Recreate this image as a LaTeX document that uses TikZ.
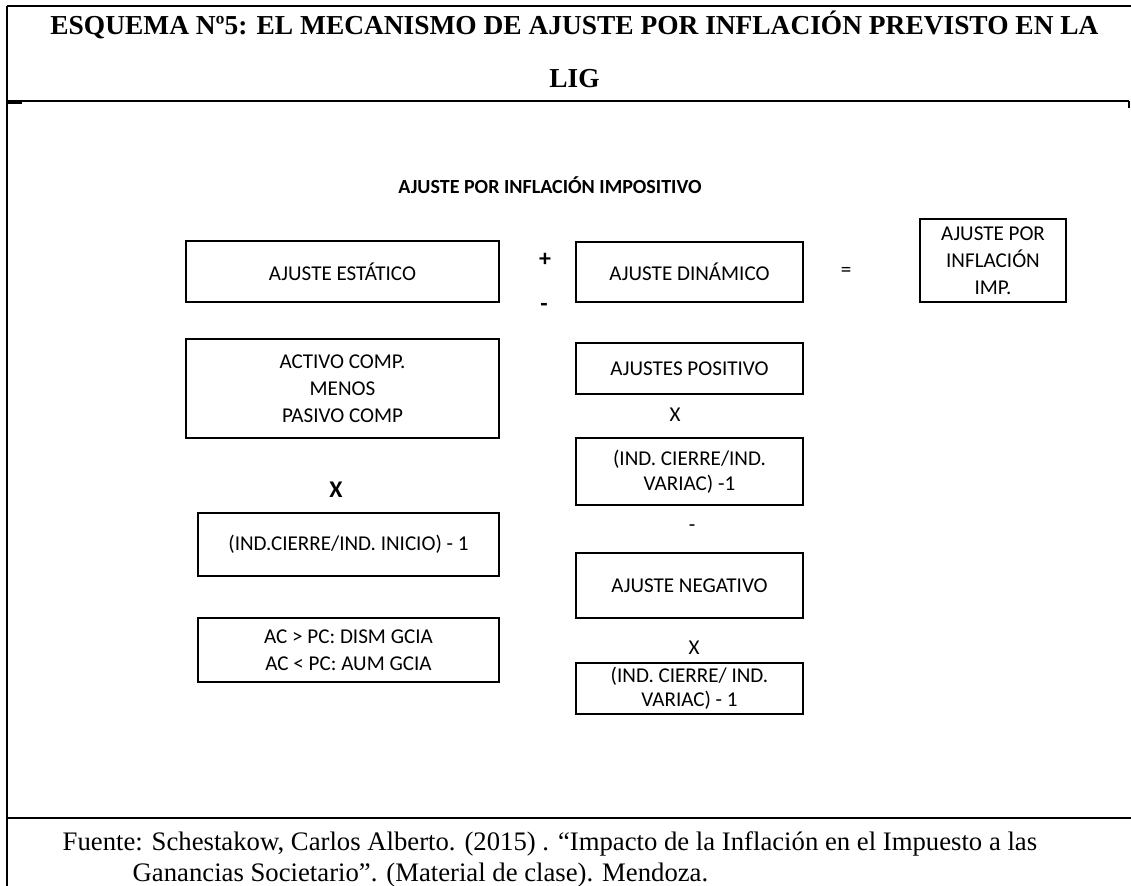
\documentclass[tikz,border=0pt]{standalone}
\usepackage{fontspec}
\setmainfont{Liberation Serif}
\newfontfamily\calibri{Carlito}
\usepackage{tikz}
\usetikzlibrary{positioning}

\begin{document}
\begin{tikzpicture}[
    frame/.style={line width=0.6pt, black},
    box/.style={draw, line width=0.45pt, inner sep=0pt, outer sep=0pt, align=center,
        font=\calibri\fontsize{6.0}{7.7}\selectfont},
    sym/.style={inner sep=0pt, font=\calibri\fontsize{6.0}{7}\selectfont},
    boldsym/.style={inner sep=0pt, font=\calibri\bfseries\fontsize{6.8}{7}\selectfont}
]
    \useasboundingbox (0,0) rectangle (11.31,-8.86);

    % Frame
    \draw[frame] (0.07,-0.06) -- (11.31,-0.06);
    \draw[frame] (0.07,-0.06) -- (0.07,-8.86);
    \draw[line width=0.45pt] (0.07,-1.01) -- (11.29,-1.01);
    \draw[line width=0.6pt] (0.07,-1.03) -- (0.22,-1.03);
    \draw[line width=0.45pt] (11.29,-1.01) -- (11.29,-1.08);
    \draw[line width=0.7pt] (0.07,-8.18) -- (11.31,-8.18);

    % Title
    \node[anchor=base, font=\bfseries\fontsize{7.8}{9}\selectfont] (title) at (5.745,-0.34)
        {ESQUEMA Nº5: EL MECANISMO DE AJUSTE POR INFLACIÓN PREVISTO EN LA};
    \node[anchor=base, font=\bfseries\fontsize{7.8}{9}\selectfont] (titleb) at (5.745,-0.87) {LIG};

    % Subtitle
    \node[font=\calibri\bfseries\fontsize{5.7}{7}\selectfont] (sub) at (5.50,-1.85)
        {AJUSTE POR INFLACIÓN IMPOSITIVO};

    % Left column
    \node[box, minimum width=3.13cm, minimum height=0.61cm] (estatico) at (3.425,-2.715) {AJUSTE ESTÁTICO};
    \node[box, minimum width=3.13cm, minimum height=0.99cm] (activo) at (3.425,-3.885)
        {ACTIVO COMP.\\MENOS\\PASIVO COMP};
    \node[boldsym] (porA) at (3.36,-4.90) {X};
    \node[box, minimum width=3.01cm, minimum height=0.63cm] (inicio) at (3.485,-5.445)
        {(IND.CIERRE/IND. INICIO) - 1};
    \node[box, minimum width=3.01cm, minimum height=0.64cm] (gcia) at (3.485,-6.50)
        {AC > PC: DISM GCIA\\AC < PC: AUM GCIA};

    % Signs
    \node[boldsym] (mas) at (5.45,-2.60) {+};
    \node[boldsym] (menos) at (5.44,-3.07) {-};
    \node[sym] (igual) at (8.46,-2.72) {=};

    % Right column
    \node[box, minimum width=2.27cm, minimum height=0.60cm] (dinamico) at (6.895,-2.72) {AJUSTE DINÁMICO};
    \node[box, minimum width=2.27cm, minimum height=0.51cm] (positivo) at (6.895,-3.685) {AJUSTES POSITIVO};
    \node[sym] (porB) at (6.75,-4.15) {X};
    \node[box, minimum width=2.27cm, minimum height=0.67cm, font=\calibri\fontsize{6.0}{7.1}\selectfont] (variac) at (6.895,-4.715)
        {(IND. CIERRE/IND.\\VARIAC) -1};
    \node[sym] (resta) at (6.92,-5.28) {-};
    \node[box, minimum width=2.27cm, minimum height=0.65cm] (negativo) at (6.895,-5.855) {AJUSTE NEGATIVO};
    \node[sym] (porC) at (6.94,-6.48) {X};
    \node[box, minimum width=2.27cm, minimum height=0.51cm, font=\calibri\fontsize{6.0}{6.9}\selectfont] (variacb) at (6.895,-6.885)
        {(IND. CIERRE/ IND.\\VARIAC) - 1};

    % Result
    \node[box, minimum width=1.46cm, minimum height=0.83cm] (imp) at (9.93,-2.605)
        {AJUSTE POR\\INFLACIÓN\\IMP.};

    % Source
    \node[anchor=base west, inner sep=0pt, font=\fontsize{7.6}{8}\selectfont] (fuente) at (0.62,-8.50)
        {Fuente: Schestakow, Carlos Alberto. (2015) . “Impacto de la Inflación en el Impuesto a las};
    \node[anchor=base west, inner sep=0pt, font=\fontsize{7.6}{8}\selectfont] (fuenteb) at (1.32,-8.81)
        {Ganancias Societario”. (Material de clase). Mendoza.};

\end{tikzpicture}
\end{document}
